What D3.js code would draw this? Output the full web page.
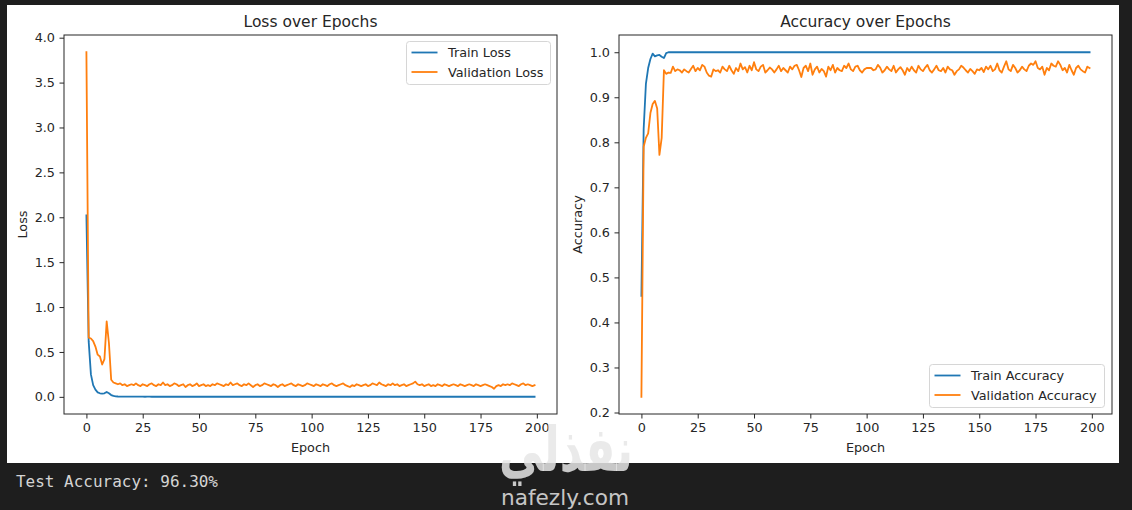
<!DOCTYPE html>
<html><head><meta charset="utf-8">
<script src="https://cdn.jsdelivr.net/npm/d3@7"></script>
<style>body{margin:0;background:#1e1e1e;} svg{display:block;}</style>
</head><body>
<svg id="c" width="1132" height="510"></svg>
<script>
const trainLoss = [
2.02,0.62,0.25,0.13,0.08,0.05,0.04,0.035,0.04,0.055,
0.04,0.02,0.01,0.006,0.004,0.003,0.003,0.002,0.002,0.002,
0.002,0.002,0.002,0.002,0.002,0.002,0.001,0.002,0.002,0.001,
0.001,0.001,0.002,0.001,0.001,0.001,0.001,0.001,0.001,0.001,
0.001,0.001,0.001,0.001,0.001,0.001,0.001,0.001,0.001,0.001,
0.001,0.001,0.001,0.001,0.001,0.001,0.001,0.001,0.001,0.001,
0.001,0.001,0.001,0.001,0.001,0.001,0.001,0.001,0.001,0.001,
0.001,0.001,0.001,0.001,0.001,0.001,0.001,0.001,0.001,0.001,
0.001,0.001,0.001,0.001,0.001,0.001,0.001,0.001,0.001,0.001,
0.001,0.001,0.001,0.001,0.001,0.001,0.001,0.001,0.001,0.001,
0.001,0.001,0.001,0.001,0.001,0.001,0.001,0.001,0.001,0.001,
0.001,0.001,0.001,0.001,0.001,0.001,0.001,0.001,0.001,0.001,
0.001,0.001,0.001,0.001,0.001,0.001,0.001,0.001,0.001,0.001,
0.001,0.001,0.001,0.001,0.001,0.001,0.001,0.001,0.001,0.001,
0.001,0.001,0.001,0.001,0.001,0.001,0.001,0.001,0.001,0.001,
0.001,0.001,0.001,0.001,0.001,0.001,0.001,0.001,0.001,0.001,
0.001,0.001,0.001,0.001,0.001,0.001,0.001,0.001,0.001,0.001,
0.001,0.001,0.001,0.001,0.001,0.001,0.001,0.001,0.001,0.001,
0.001,0.001,0.001,0.001,0.001,0.001,0.001,0.001,0.001,0.001,
0.001,0.001,0.001,0.001,0.001,0.001,0.001,0.001,0.001,0.001];
const valLoss = [
3.84,0.66,0.65,0.62,0.56,0.47,0.45,0.36,0.42,0.84,
0.60,0.19,0.16,0.15,0.14,0.15,0.13,0.14,0.12,0.13,
0.14,0.13,0.15,0.13,0.12,0.14,0.13,0.12,0.14,0.15,
0.13,0.12,0.14,0.13,0.16,0.13,0.14,0.12,0.13,0.15,
0.14,0.12,0.13,0.14,0.11,0.13,0.14,0.12,0.13,0.15,
0.12,0.13,0.14,0.12,0.13,0.12,0.14,0.13,0.15,0.14,
0.13,0.12,0.14,0.13,0.16,0.13,0.14,0.15,0.13,0.12,
0.14,0.13,0.15,0.13,0.11,0.13,0.14,0.12,0.13,0.15,
0.14,0.13,0.12,0.14,0.13,0.11,0.13,0.14,0.12,0.13,
0.14,0.15,0.13,0.12,0.14,0.13,0.12,0.13,0.15,0.14,
0.13,0.12,0.14,0.13,0.12,0.14,0.13,0.12,0.14,0.15,
0.13,0.12,0.13,0.14,0.15,0.13,0.12,0.11,0.13,0.12,
0.14,0.13,0.12,0.13,0.14,0.12,0.13,0.15,0.14,0.13,
0.16,0.14,0.13,0.12,0.14,0.13,0.15,0.13,0.14,0.12,
0.13,0.14,0.12,0.13,0.14,0.15,0.17,0.14,0.13,0.14,
0.12,0.13,0.14,0.12,0.13,0.12,0.14,0.13,0.12,0.14,
0.13,0.12,0.13,0.14,0.13,0.12,0.14,0.13,0.12,0.13,
0.14,0.13,0.12,0.14,0.13,0.12,0.13,0.14,0.13,0.12,
0.11,0.09,0.12,0.13,0.12,0.14,0.13,0.14,0.13,0.15,
0.14,0.13,0.12,0.14,0.15,0.13,0.14,0.13,0.12,0.13];
const trainAcc = [
0.459,0.83,0.93,0.965,0.985,0.997,0.991,0.993,0.994,0.99,
0.987,0.998,1,1,1,1,1,1,1,1,
1,1,1,1,1,1,1,1,1,1,
1,1,1,1,1,1,1,1,1,1,
1,1,1,1,1,1,1,1,1,1,
1,1,1,1,1,1,1,1,1,1,
1,1,1,1,1,1,1,1,1,1,
1,1,1,1,1,1,1,1,1,1,
1,1,1,1,1,1,1,1,1,1,
1,1,1,1,1,1,1,1,1,1,
1,1,1,1,1,1,1,1,1,1,
1,1,1,1,1,1,1,1,1,1,
1,1,1,1,1,1,1,1,1,1,
1,1,1,1,1,1,1,1,1,1,
1,1,1,1,1,1,1,1,1,1,
1,1,1,1,1,1,1,1,1,1,
1,1,1,1,1,1,1,1,1,1,
1,1,1,1,1,1,1,1,1,1,
1,1,1,1,1,1,1,1,1,1,
1,1,1,1,1,1,1,1,1,1];
const valAcc = [
0.235,0.79,0.81,0.82,0.865,0.885,0.892,0.875,0.772,0.81,
0.96,0.952,0.955,0.954,0.968,0.958,0.962,0.96,0.955,0.962,
0.958,0.955,0.963,0.97,0.958,0.965,0.96,0.972,0.968,0.955,
0.948,0.946,0.962,0.958,0.96,0.955,0.968,0.962,0.958,0.97,
0.96,0.952,0.965,0.958,0.975,0.962,0.967,0.955,0.97,0.96,
0.978,0.962,0.958,0.968,0.972,0.955,0.96,0.966,0.962,0.955,
0.962,0.97,0.958,0.965,0.96,0.955,0.968,0.962,0.97,0.972,
0.96,0.945,0.965,0.97,0.958,0.975,0.95,0.962,0.968,0.955,
0.963,0.958,0.946,0.968,0.96,0.972,0.955,0.965,0.96,0.958,
0.97,0.965,0.975,0.962,0.958,0.968,0.97,0.96,0.955,0.962,
0.965,0.965,0.965,0.96,0.962,0.972,0.966,0.955,0.96,0.968,
0.962,0.958,0.97,0.955,0.962,0.967,0.96,0.95,0.965,0.958,
0.968,0.96,0.955,0.97,0.962,0.958,0.966,0.972,0.96,0.955,
0.962,0.97,0.96,0.958,0.965,0.955,0.968,0.962,0.96,0.95,
0.958,0.962,0.97,0.966,0.96,0.955,0.963,0.958,0.952,0.962,
0.96,0.965,0.956,0.968,0.962,0.97,0.958,0.962,0.975,0.96,
0.955,0.968,0.98,0.962,0.958,0.972,0.965,0.955,0.96,0.968,
0.962,0.958,0.97,0.975,0.972,0.98,0.965,0.962,0.968,0.95,
0.965,0.96,0.975,0.97,0.968,0.98,0.972,0.96,0.965,0.955,
0.972,0.96,0.95,0.965,0.97,0.962,0.958,0.955,0.968,0.965];
const xTicks = [0,25,50,75,100,125,150,175,200];
const lossTicks = [0.0,0.5,1.0,1.5,2.0,2.5,3.0,3.5,4.0];
const accTicks = [0.2,0.3,0.4,0.5,0.6,0.7,0.8,0.9,1.0];

const BLUE = "#1f77b4", ORANGE = "#ff7f0e";
const FONT = "DejaVu Sans, sans-serif";
const FS = 12.8;
const svg = d3.select("#c");
svg.append("rect").attr("width",1132).attr("height",510).attr("fill","#1e1e1e");
svg.append("rect").attr("x",7).attr("y",5).attr("width",1112).attr("height",458).attr("fill","#ffffff");

function panel(opt){
  const {x0,x1,y0,y1,series,yDomain,yTicks,title,ylabel,ylabelX,legend} = opt;
  const x = d3.scaleLinear().domain([-9.95,208.95]).range([x0,x1]);
  const y = d3.scaleLinear().domain(yDomain).range([y1,y0]);
  const g = svg.append("g");
  const line = d3.line().x((d,i)=>x(i)).y(d=>y(d));
  series.forEach(s=>{
    g.append("path").datum(s.values).attr("d",line).attr("fill","none")
      .attr("stroke",s.color).attr("stroke-width",1.8).attr("stroke-linejoin","round").attr("stroke-linecap","square");
  });
  const xa = g.append("g").attr("transform",`translate(0,${y1})`)
    .call(d3.axisBottom(x).tickValues(xTicks).tickSize(4.5).tickPadding(4.5).tickFormat(d3.format("d")));
  const ya = g.append("g").attr("transform",`translate(${x0},0)`)
    .call(d3.axisLeft(y).tickValues(yTicks).tickSize(4.5).tickPadding(4.5).tickFormat(d3.format(".1f")));
  [xa,ya].forEach(a=>{
    a.select(".domain").remove();
    a.selectAll("text").attr("font-family",FONT).attr("font-size",FS).attr("fill","#262626");
    a.selectAll("line").attr("stroke","#262626").attr("stroke-width",1);
  });
  g.append("rect").attr("x",x0).attr("y",y0).attr("width",x1-x0).attr("height",y1-y0)
    .attr("fill","none").attr("stroke","#262626").attr("stroke-width",1);
  g.append("text").attr("x",(x0+x1)/2).attr("y",y0-8).attr("text-anchor","middle")
    .attr("font-family",FONT).attr("font-size",15.5).attr("fill","#262626").text(title);
  g.append("text").attr("x",(x0+x1)/2).attr("y",452).attr("text-anchor","middle")
    .attr("font-family",FONT).attr("font-size",FS).attr("fill","#262626").text("Epoch");
  g.append("text").attr("transform",`translate(${ylabelX},${(y0+y1)/2}) rotate(-90)`)
    .attr("text-anchor","middle").attr("font-family",FONT).attr("font-size",FS).attr("fill","#262626").text(ylabel);
  // legend
  const L = legend;
  const lg = g.append("g");
  lg.append("rect").attr("x",L.x).attr("y",L.y).attr("width",L.w).attr("height",L.h).attr("rx",3)
    .attr("fill","#ffffff").attr("fill-opacity",0.8).attr("stroke","#d6d6d6").attr("stroke-width",1);
  series.forEach((s,i)=>{
    const ry = L.y + 11 + i*19.5;
    lg.append("line").attr("x1",L.x+5).attr("x2",L.x+31).attr("y1",ry).attr("y2",ry)
      .attr("stroke",s.color).attr("stroke-width",1.8);
    lg.append("text").attr("x",L.x+41.5).attr("y",ry).attr("dy","0.36em")
      .attr("font-family",FONT).attr("font-size",FS).attr("fill","#262626").text(s.name);
  });
}

panel({x0:64,x1:557,y0:35,y1:414,
  series:[{name:"Train Loss",values:trainLoss,color:BLUE},{name:"Validation Loss",values:valLoss,color:ORANGE}],
  yDomain:[-0.191,4.03],yTicks:lossTicks,title:"Loss over Epochs",ylabel:"Loss",ylabelX:27,
  legend:{x:406.5,y:41.5,w:144,h:43}});
panel({x0:619,x1:1112,y0:35,y1:414,
  series:[{name:"Train Accuracy",values:trainAcc,color:BLUE},{name:"Validation Accuracy",values:valAcc,color:ORANGE}],
  yDomain:[0.1967,1.0383],yTicks:accTicks,title:"Accuracy over Epochs",ylabel:"Accuracy",ylabelX:582,
  legend:{x:929.5,y:364.5,w:175,h:43}});

svg.append("text").attr("x",16).attr("y",487).attr("font-family","DejaVu Sans Mono, monospace")
  .attr("font-size",16).attr("fill","#d4d4d4").attr("textLength",202).attr("lengthAdjust","spacingAndGlyphs")
  .text("Test Accuracy: 96.30%");
// watermark
svg.append("text").attr("transform","translate(566,471) scale(1,1.3)").attr("text-anchor","middle")
  .attr("font-family","DejaVu Sans, sans-serif")
  .attr("font-weight","bold").attr("font-size",48).attr("fill","#e6e6e6").attr("fill-opacity",0.85)
  .attr("textLength",134).attr("lengthAdjust","spacingAndGlyphs").text("نفذلي");
svg.append("text").attr("x",565).attr("y",505).attr("text-anchor","middle").attr("font-family","DejaVu Sans, sans-serif")
  .attr("font-size",21).attr("fill","#e6e6e6").attr("fill-opacity",0.85).attr("textLength",128).attr("lengthAdjust","spacingAndGlyphs").text("nafezly.com");
</script>
</body></html>
